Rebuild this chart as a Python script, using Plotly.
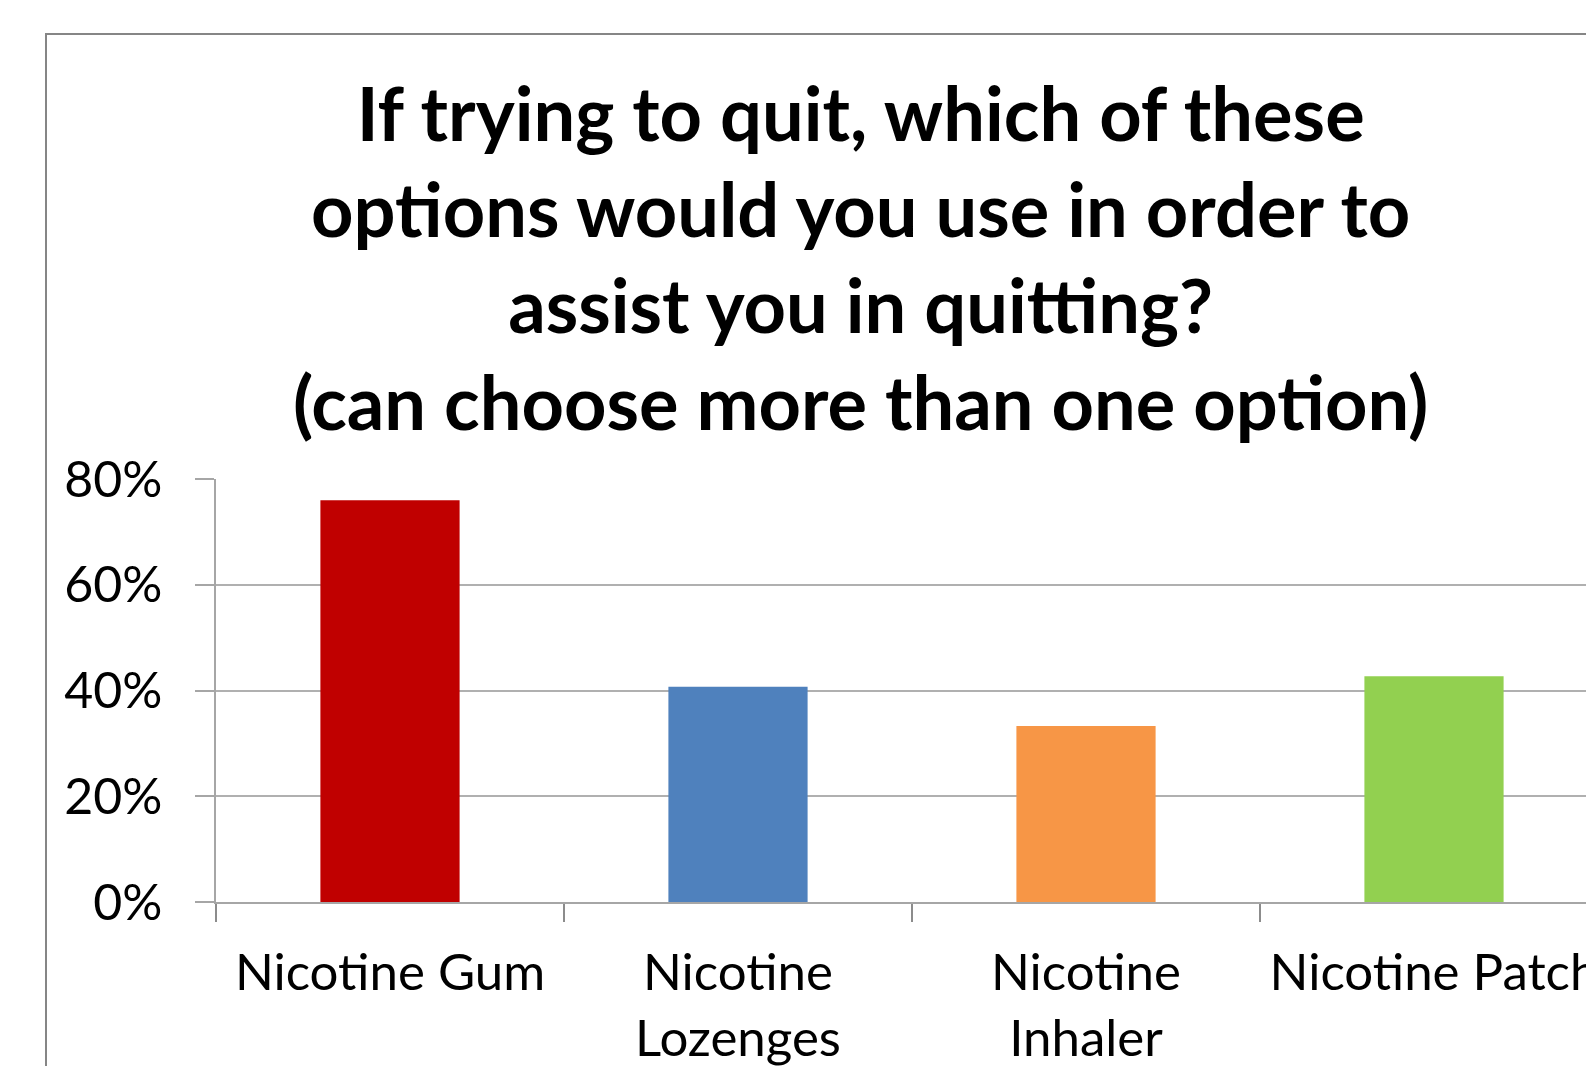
import plotly.graph_objects as go

categories = ["Nicotine Gum", "Nicotine<br>Lozenges", "Nicotine<br>Inhaler", "Nicotine Patch"]
values = [0.76, 0.407, 0.333, 0.427]
colors = ["#C00000", "#4F81BD", "#F79646", "#92D050"]
y_ticks = [0, 0.2, 0.4, 0.6, 0.8]
title_text = ("If trying to quit, which of these<br>options would you use in order to<br>"
              "assist you in quitting?<br>(can choose more than one option)")

W, H = 1586, 1066
L, T, B = 216, 479, 164
plot_w = W - L
plot_h = H - T - B

def px_x(x):
    return (x - L) / plot_w

def px_y(y):
    return (H - B - y) / plot_h

fig = go.Figure(go.Bar(
    x=categories, y=values, marker=dict(color=colors, line=dict(width=0)),
    width=0.4,
))

fig.update_layout(
    width=W, height=H,
    margin=dict(l=L, r=0, t=T, b=B, pad=0, autoexpand=False),
    paper_bgcolor="white", plot_bgcolor="white",
    showlegend=False,
    font=dict(family="Lato", color="black"),
    xaxis=dict(
        type="category", range=[-0.5, -0.5 + plot_w / 348.0], automargin=False,
        tickson="boundaries", ticks="outside", ticklen=18, tickcolor="#8c8c8c", tickwidth=1.5,
        showline=True, linecolor="#a6a6a6", linewidth=1.5, showgrid=False,
        tickfont=dict(size=51, family="Lato", color="black"),
        ticklabelstandoff=25,
    ),
    yaxis=dict(
        range=[0, 0.8], tickvals=y_ticks, tickformat=".0%", automargin=False,
        ticks="outside", ticklen=19, tickcolor="#a6a6a6", tickwidth=1.5,
        showline=True, linecolor="#a6a6a6", linewidth=1.5,
        showgrid=True, gridcolor="#b0b0b0", gridwidth=1.5,
        zeroline=False,
        tickfont=dict(size=50, family="Lato", color="black"),
        ticklabelstandoff=23,
    ),
    shapes=[dict(
        type="rect", xref="paper", yref="paper",
        x0=px_x(46), x1=px_x(1700), y0=px_y(1200), y1=px_y(34),
        line=dict(color="#868686", width=2), fillcolor="rgba(0,0,0,0)", layer="below",
    )],
    annotations=[dict(
        text=title_text, xref="paper", yref="paper",
        x=px_x(860), y=px_y(257), xanchor="center", yanchor="middle",
        showarrow=False, align="center",
        font=dict(size=74, family="Lato", color="black", weight="bold"),
    )],
)

fig.write_html("out.html")
